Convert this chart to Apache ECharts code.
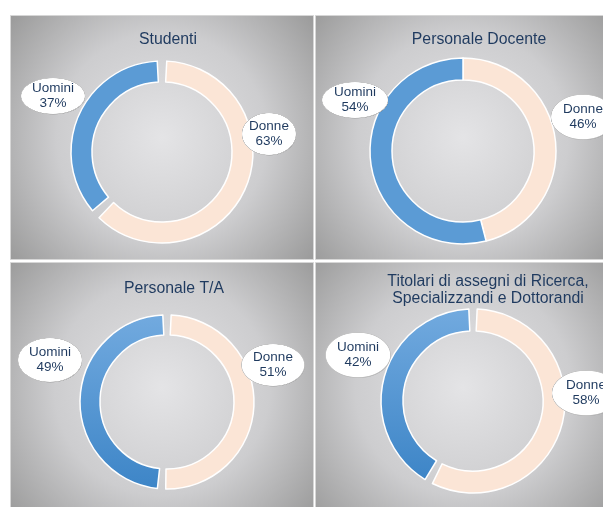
<!DOCTYPE html>
<html>
<head>
<meta charset="utf-8">
<script src="https://cdn.jsdelivr.net/npm/echarts@6/dist/echarts.min.js"></script>
<style>
html,body{margin:0;padding:0;background:#fff;}
#c{width:603px;height:507px;}
</style>
</head>
<body>
<div id="c"></div>
<script>
// ---- data ----
const titles = ['Studenti', 'Personale Docente', 'Personale T/A', 'Titolari di assegni di Ricerca,\nSpecializzandi e Dottorandi'];
const categories = ['Donne', 'Uomini'];
const donne = [63, 46, 51, 58];
const uomini = [37, 54, 49, 42];

// ---- layout / style (pixels) ----
const panelRects = [[10, 15, 303, 244], [315, 15, 295, 244], [10, 262, 303, 250], [315, 262, 295, 250]];
const titlePos = [[168, 31], [479, 31], [174, 280], [488, 273]];
const pieCenter = [[162, 152], [463, 151], [167, 402], [473, 401]];
const pieRadius = [[70, 91], [71, 93], [67, 87], [70, 92]];
const padAngles = [6, 0, 5.5, 5.2];
// label boxes: [cx, cy, w, h] for Donne, Uomini
const labelBoxes = [
  [[269, 134, 56, 44], [53, 96, 66, 38]],
  [[583, 117, 66, 47], [355, 100, 68, 38]],
  [[273, 365, 65, 44], [50, 360, 66, 46]],
  [[586, 393, 70, 47], [358, 355, 67, 47]]
];
const textColor = '#1f3a5f';
const donneColor = '#fbe5d6';
const blueSolid = '#5b9bd5';
const blueGrad = {type: 'linear', x: 0, y: 0, x2: 0, y2: 1, colorStops: [{offset: 0, color: '#72aadf'}, {offset: 1, color: '#3d85c7'}]};
const uominiColors = [blueSolid, blueSolid, blueGrad, blueGrad];

function ellipseImg(w, h) {
  const s = 3;
  const c = document.createElement('canvas');
  c.width = w * s; c.height = h * s;
  const ctx = c.getContext('2d');
  ctx.scale(s, s);
  ctx.beginPath();
  ctx.ellipse(w / 2 + 0.4, h / 2 + 0.6, w / 2 - 1, h / 2 - 1, 0, 0, Math.PI * 2);
  ctx.fillStyle = 'rgba(120,120,120,0.35)';
  ctx.fill();
  ctx.beginPath();
  ctx.ellipse(w / 2, h / 2, w / 2 - 1, h / 2 - 1, 0, 0, Math.PI * 2);
  ctx.fillStyle = '#ffffff';
  ctx.fill();
  ctx.strokeStyle = '#c4c4c4';
  ctx.lineWidth = 0.7;
  ctx.stroke();
  return c;
}

const chart = echarts.init(document.getElementById('c'), null, {renderer: 'canvas'});

const graphics = panelRects.map(r => ({
  type: 'rect', silent: true, z: -10,
  shape: {x: r[0] + 0.5, y: r[1] + 0.5, width: r[2], height: r[3]},
  style: {
    fill: {type: 'radial', x: 0.5, y: 0.5, r: 0.78, colorStops: [
      {offset: 0, color: '#e4e4e6'}, {offset: 0.55, color: '#cdcdcf'}, {offset: 1, color: '#9c9c9c'}]},
    stroke: '#d6d6d6', lineWidth: 1
  }
}));

const series = titles.map((t, i) => {
  const vals = [donne[i], uomini[i]];
  const cols = [donneColor, uominiColors[i]];
  return {
    type: 'pie',
    center: pieCenter[i],
    radius: pieRadius[i],
    startAngle: 90,
    clockwise: true,
    padAngle: padAngles[i],
    avoidLabelOverlap: false,
    silent: true,
    animation: false,
    itemStyle: {borderColor: '#ffffff', borderWidth: 1.5},
    labelLine: {show: false},
    data: categories.map((c, k) => {
      const b = labelBoxes[i][k];
      return {
        name: c,
        value: vals[k],
        itemStyle: {color: cols[k]},
        label: {
          width: b[2],
          padding: [(b[3] - 30) / 2 - 1, 0, (b[3] - 30) / 2 + 1, 0],
          backgroundColor: {image: ellipseImg(b[2], b[3])}
        }
      };
    }),
    label: {
      show: true,
      position: 'outside',
      formatter: p => p.name + '\n' + Math.round(p.percent) + '%',
      color: textColor,
      fontFamily: 'Liberation Sans, Arial, sans-serif',
      fontSize: 13.5,
      lineHeight: 15,
      align: 'center'
    },
    labelLayout: function (p) {
      const b = labelBoxes[i][p.dataIndex];
      return {x: b[0], y: b[1], align: 'center', verticalAlign: 'middle'};
    }
  };
});

chart.setOption({
  animation: false,
  backgroundColor: '#ffffff',
  graphic: graphics,
  title: titles.map((t, i) => ({
    text: t,
    left: titlePos[i][0],
    top: titlePos[i][1],
    textAlign: 'center',
    padding: 0,
    textStyle: {
      color: textColor, fontSize: 15.8, fontWeight: 'normal',
      fontFamily: 'Liberation Sans, Arial, sans-serif', lineHeight: 17
    }
  })),
  series: series
});
</script>
</body>
</html>
